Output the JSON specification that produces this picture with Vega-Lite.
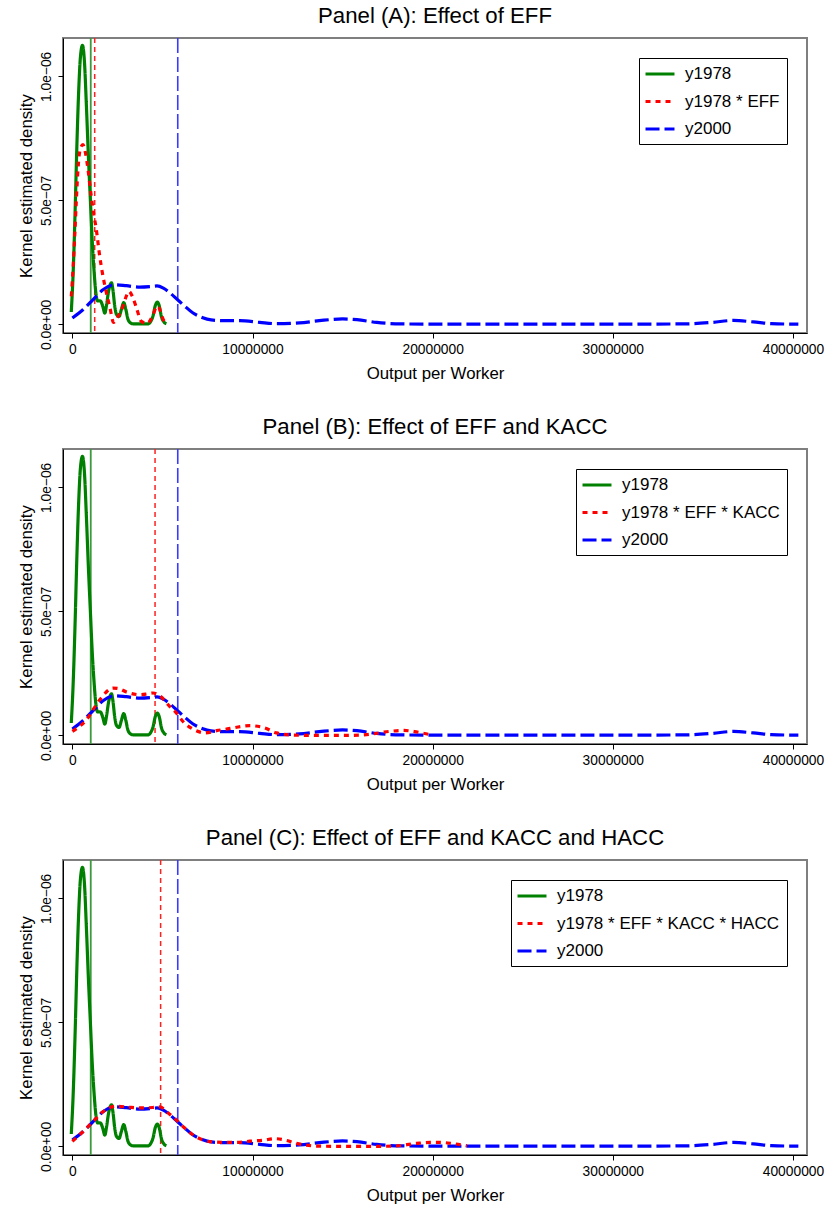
{
  "$schema": "https://vega.github.io/schema/vega-lite/v6.json",
  "padding": {"left": 17, "top": 3, "right": 0, "bottom": 0},
  "background": "white",
  "spacing": 30,
  "config": {
    "font": "Liberation Sans",
    "view": {"stroke": "#7f7f7f", "strokeWidth": 2},
    "axis": {"grid": false, "domainColor": "black", "tickColor": "black", "labelColor": "black", "titleColor": "black", "labelFont": "Liberation Sans", "titleFont": "Liberation Sans", "labelFontSize": 13.8, "titleFontSize": 16.8, "titleFontWeight": "normal", "tickSize": 5},
    "axisX": {"labelPadding": 4, "titlePadding": 10},
    "axisY": {"labelAngle": -90, "labelAlign": "center", "labelBaseline": "bottom", "labelPadding": 5, "titlePadding": 4},
    "title": {"fontSize": 22.2, "font": "Liberation Sans", "fontWeight": "normal", "color": "black", "anchor": "middle", "offset": 10},
    "legend": {"orient": "top-right", "offset": 20, "padding": 7, "strokeColor": "black", "fillColor": "white", "symbolType": "M-2,0H2", "symbolSize": 210, "symbolStrokeWidth": 3.2, "labelFontSize": 17, "labelFont": "Liberation Sans", "labelColor": "black", "labelLimit": 0, "rowPadding": 10.5, "symbolOffset": 5, "labelOffset": 16},
    "line": {"strokeWidth": 3.2, "interpolate": "monotone"}
  },
  "datasets": {
    "common": [
      {"series": "y1978", "x": -60000, "density": 5.0e-8},
      {"series": "y1978", "x": 50000, "density": 2.2e-7},
      {"series": "y1978", "x": 150000, "density": 4.5e-7},
      {"series": "y1978", "x": 250000, "density": 7.2e-7},
      {"series": "y1978", "x": 350000, "density": 9.4e-7},
      {"series": "y1978", "x": 450000, "density": 1.08e-6},
      {"series": "y1978", "x": 560000, "density": 1.125e-6},
      {"series": "y1978", "x": 670000, "density": 1.06e-6},
      {"series": "y1978", "x": 780000, "density": 8.8e-7},
      {"series": "y1978", "x": 900000, "density": 6.6e-7},
      {"series": "y1978", "x": 1000000, "density": 5.0e-7},
      {"series": "y1978", "x": 1100000, "density": 3.4e-7},
      {"series": "y1978", "x": 1200000, "density": 2.2e-7},
      {"series": "y1978", "x": 1300000, "density": 1.3e-7},
      {"series": "y1978", "x": 1400000, "density": 9.5e-8},
      {"series": "y1978", "x": 1550000, "density": 9.5e-8},
      {"series": "y1978", "x": 1700000, "density": 7.0e-8},
      {"series": "y1978", "x": 1800000, "density": 4.5e-8},
      {"series": "y1978", "x": 1900000, "density": 8.0e-8},
      {"series": "y1978", "x": 2000000, "density": 1.3e-7},
      {"series": "y1978", "x": 2100000, "density": 1.6e-7},
      {"series": "y1978", "x": 2170000, "density": 1.68e-7},
      {"series": "y1978", "x": 2250000, "density": 1.4e-7},
      {"series": "y1978", "x": 2350000, "density": 7.5e-8},
      {"series": "y1978", "x": 2450000, "density": 4.0e-8},
      {"series": "y1978", "x": 2590000, "density": 3.2e-8},
      {"series": "y1978", "x": 2720000, "density": 6.0e-8},
      {"series": "y1978", "x": 2850000, "density": 8.8e-8},
      {"series": "y1978", "x": 2970000, "density": 6.0e-8},
      {"series": "y1978", "x": 3090000, "density": 2.0e-8},
      {"series": "y1978", "x": 3250000, "density": 5e-9},
      {"series": "y1978", "x": 3400000, "density": 2e-9},
      {"series": "y1978", "x": 4200000, "density": 2e-9},
      {"series": "y1978", "x": 4350000, "density": 1.2e-8},
      {"series": "y1978", "x": 4480000, "density": 3.5e-8},
      {"series": "y1978", "x": 4600000, "density": 7.5e-8},
      {"series": "y1978", "x": 4720000, "density": 9.0e-8},
      {"series": "y1978", "x": 4840000, "density": 7.0e-8},
      {"series": "y1978", "x": 4940000, "density": 3.2e-8},
      {"series": "y1978", "x": 5080000, "density": 1.0e-8},
      {"series": "y1978", "x": 5220000, "density": 3e-9},
      {"series": "y2000", "x": 0, "density": 2.6e-8},
      {"series": "y2000", "x": 600000, "density": 6.0e-8},
      {"series": "y2000", "x": 1150000, "density": 1.0e-7},
      {"series": "y2000", "x": 1700000, "density": 1.4e-7},
      {"series": "y2000", "x": 2350000, "density": 1.6e-7},
      {"series": "y2000", "x": 3000000, "density": 1.56e-7},
      {"series": "y2000", "x": 3750000, "density": 1.5e-7},
      {"series": "y2000", "x": 4300000, "density": 1.52e-7},
      {"series": "y2000", "x": 4700000, "density": 1.55e-7},
      {"series": "y2000", "x": 5050000, "density": 1.46e-7},
      {"series": "y2000", "x": 5400000, "density": 1.28e-7},
      {"series": "y2000", "x": 5800000, "density": 1.02e-7},
      {"series": "y2000", "x": 6200000, "density": 7.6e-8},
      {"series": "y2000", "x": 6700000, "density": 4.6e-8},
      {"series": "y2000", "x": 7200000, "density": 2.8e-8},
      {"series": "y2000", "x": 7700000, "density": 1.8e-8},
      {"series": "y2000", "x": 8500000, "density": 1.5e-8},
      {"series": "y2000", "x": 9300000, "density": 1.5e-8},
      {"series": "y2000", "x": 10400000, "density": 8e-9},
      {"series": "y2000", "x": 11300000, "density": 3e-9},
      {"series": "y2000", "x": 12600000, "density": 6e-9},
      {"series": "y2000", "x": 13700000, "density": 1.5e-8},
      {"series": "y2000", "x": 15000000, "density": 2.2e-8},
      {"series": "y2000", "x": 15800000, "density": 1.9e-8},
      {"series": "y2000", "x": 16900000, "density": 8e-9},
      {"series": "y2000", "x": 18200000, "density": 2e-9},
      {"series": "y2000", "x": 20000000, "density": 1e-9},
      {"series": "y2000", "x": 25000000, "density": 1e-9},
      {"series": "y2000", "x": 30000000, "density": 1e-9},
      {"series": "y2000", "x": 34000000, "density": 2e-9},
      {"series": "y2000", "x": 35500000, "density": 8e-9},
      {"series": "y2000", "x": 36700000, "density": 1.6e-8},
      {"series": "y2000", "x": 37800000, "density": 1.0e-8},
      {"series": "y2000", "x": 38800000, "density": 3e-9},
      {"series": "y2000", "x": 40300000, "density": 1e-9}
    ],
    "redA": [
      {"series": "y1978 * EFF", "x": -60000, "density": 1.13e-7},
      {"series": "y1978 * EFF", "x": 50000, "density": 2.4e-7},
      {"series": "y1978 * EFF", "x": 130000, "density": 3.55e-7},
      {"series": "y1978 * EFF", "x": 220000, "density": 5.0e-7},
      {"series": "y1978 * EFF", "x": 310000, "density": 6.24e-7},
      {"series": "y1978 * EFF", "x": 450000, "density": 7.1e-7},
      {"series": "y1978 * EFF", "x": 590000, "density": 7.25e-7},
      {"series": "y1978 * EFF", "x": 730000, "density": 6.9e-7},
      {"series": "y1978 * EFF", "x": 870000, "density": 6.24e-7},
      {"series": "y1978 * EFF", "x": 1050000, "density": 5.16e-7},
      {"series": "y1978 * EFF", "x": 1200000, "density": 4.4e-7},
      {"series": "y1978 * EFF", "x": 1330000, "density": 3.82e-7},
      {"series": "y1978 * EFF", "x": 1520000, "density": 2.74e-7},
      {"series": "y1978 * EFF", "x": 1700000, "density": 1.94e-7},
      {"series": "y1978 * EFF", "x": 1890000, "density": 1.27e-7},
      {"series": "y1978 * EFF", "x": 2070000, "density": 7.3e-8},
      {"series": "y1978 * EFF", "x": 2290000, "density": 8e-9},
      {"series": "y1978 * EFF", "x": 2530000, "density": 3.2e-8},
      {"series": "y1978 * EFF", "x": 2810000, "density": 7.3e-8},
      {"series": "y1978 * EFF", "x": 3000000, "density": 1.15e-7},
      {"series": "y1978 * EFF", "x": 3140000, "density": 1.33e-7},
      {"series": "y1978 * EFF", "x": 3330000, "density": 1.13e-7},
      {"series": "y1978 * EFF", "x": 3560000, "density": 6.6e-8},
      {"series": "y1978 * EFF", "x": 3830000, "density": 1.2e-8},
      {"series": "y1978 * EFF", "x": 4150000, "density": 4e-9},
      {"series": "y1978 * EFF", "x": 4480000, "density": 3.9e-8},
      {"series": "y1978 * EFF", "x": 4650000, "density": 6.8e-8},
      {"series": "y1978 * EFF", "x": 4760000, "density": 7.3e-8},
      {"series": "y1978 * EFF", "x": 4900000, "density": 5.0e-8},
      {"series": "y1978 * EFF", "x": 5030000, "density": 2.2e-8},
      {"series": "y1978 * EFF", "x": 5120000, "density": 1.0e-8}
    ],
    "redB": [
      {"series": "y1978 * EFF * KACC", "x": 0, "density": 1.6e-8},
      {"series": "y1978 * EFF * KACC", "x": 780000, "density": 6.3e-8},
      {"series": "y1978 * EFF * KACC", "x": 1520000, "density": 1.44e-7},
      {"series": "y1978 * EFF * KACC", "x": 2260000, "density": 1.91e-7},
      {"series": "y1978 * EFF * KACC", "x": 2600000, "density": 1.88e-7},
      {"series": "y1978 * EFF * KACC", "x": 3000000, "density": 1.75e-7},
      {"series": "y1978 * EFF * KACC", "x": 3740000, "density": 1.64e-7},
      {"series": "y1978 * EFF * KACC", "x": 4200000, "density": 1.68e-7},
      {"series": "y1978 * EFF * KACC", "x": 4480000, "density": 1.71e-7},
      {"series": "y1978 * EFF * KACC", "x": 4850000, "density": 1.6e-7},
      {"series": "y1978 * EFF * KACC", "x": 5400000, "density": 1.17e-7},
      {"series": "y1978 * EFF * KACC", "x": 5780000, "density": 9.0e-8},
      {"series": "y1978 * EFF * KACC", "x": 6140000, "density": 5.6e-8},
      {"series": "y1978 * EFF * KACC", "x": 6700000, "density": 2.5e-8},
      {"series": "y1978 * EFF * KACC", "x": 7400000, "density": 1.0e-8},
      {"series": "y1978 * EFF * KACC", "x": 8000000, "density": 1.9e-8},
      {"series": "y1978 * EFF * KACC", "x": 8600000, "density": 2.6e-8},
      {"series": "y1978 * EFF * KACC", "x": 9850000, "density": 3.9e-8},
      {"series": "y1978 * EFF * KACC", "x": 10600000, "density": 3.2e-8},
      {"series": "y1978 * EFF * KACC", "x": 11330000, "density": 1.0e-8},
      {"series": "y1978 * EFF * KACC", "x": 12260000, "density": 1e-9},
      {"series": "y1978 * EFF * KACC", "x": 13700000, "density": 0},
      {"series": "y1978 * EFF * KACC", "x": 15200000, "density": 0},
      {"series": "y1978 * EFF * KACC", "x": 16330000, "density": 3e-9},
      {"series": "y1978 * EFF * KACC", "x": 17600000, "density": 1.6e-8},
      {"series": "y1978 * EFF * KACC", "x": 18400000, "density": 2.0e-8},
      {"series": "y1978 * EFF * KACC", "x": 19100000, "density": 1.4e-8},
      {"series": "y1978 * EFF * KACC", "x": 19850000, "density": 3e-9}
    ],
    "redC": [
      {"series": "y1978 * EFF * KACC * HACC", "x": 0, "density": 2.0e-8},
      {"series": "y1978 * EFF * KACC * HACC", "x": 600000, "density": 6.0e-8},
      {"series": "y1978 * EFF * KACC * HACC", "x": 1150000, "density": 1.0e-7},
      {"series": "y1978 * EFF * KACC * HACC", "x": 1700000, "density": 1.4e-7},
      {"series": "y1978 * EFF * KACC * HACC", "x": 2440000, "density": 1.62e-7},
      {"series": "y1978 * EFF * KACC * HACC", "x": 3100000, "density": 1.58e-7},
      {"series": "y1978 * EFF * KACC * HACC", "x": 3900000, "density": 1.55e-7},
      {"series": "y1978 * EFF * KACC * HACC", "x": 4500000, "density": 1.57e-7},
      {"series": "y1978 * EFF * KACC * HACC", "x": 4850000, "density": 1.59e-7},
      {"series": "y1978 * EFF * KACC * HACC", "x": 5300000, "density": 1.36e-7},
      {"series": "y1978 * EFF * KACC * HACC", "x": 5780000, "density": 1.06e-7},
      {"series": "y1978 * EFF * KACC * HACC", "x": 6200000, "density": 7.6e-8},
      {"series": "y1978 * EFF * KACC * HACC", "x": 6700000, "density": 4.6e-8},
      {"series": "y1978 * EFF * KACC * HACC", "x": 7260000, "density": 2.6e-8},
      {"series": "y1978 * EFF * KACC * HACC", "x": 7630000, "density": 1.9e-8},
      {"series": "y1978 * EFF * KACC * HACC", "x": 8500000, "density": 1.6e-8},
      {"series": "y1978 * EFF * KACC * HACC", "x": 9100000, "density": 1.6e-8},
      {"series": "y1978 * EFF * KACC * HACC", "x": 9850000, "density": 2.1e-8},
      {"series": "y1978 * EFF * KACC * HACC", "x": 10600000, "density": 2.5e-8},
      {"series": "y1978 * EFF * KACC * HACC", "x": 11240000, "density": 3.1e-8},
      {"series": "y1978 * EFF * KACC * HACC", "x": 11900000, "density": 2.4e-8},
      {"series": "y1978 * EFF * KACC * HACC", "x": 12440000, "density": 1.2e-8},
      {"series": "y1978 * EFF * KACC * HACC", "x": 13700000, "density": 1e-9},
      {"series": "y1978 * EFF * KACC * HACC", "x": 15200000, "density": 0},
      {"series": "y1978 * EFF * KACC * HACC", "x": 16300000, "density": 0},
      {"series": "y1978 * EFF * KACC * HACC", "x": 17800000, "density": 1e-9},
      {"series": "y1978 * EFF * KACC * HACC", "x": 19100000, "density": 1.2e-8},
      {"series": "y1978 * EFF * KACC * HACC", "x": 19850000, "density": 1.6e-8},
      {"series": "y1978 * EFF * KACC * HACC", "x": 20400000, "density": 1.6e-8},
      {"series": "y1978 * EFF * KACC * HACC", "x": 21050000, "density": 1.2e-8},
      {"series": "y1978 * EFF * KACC * HACC", "x": 21900000, "density": 2e-9}
    ],
    "means": [
      {"panel": "A", "kind": "y1978", "x": 1020000},
      {"panel": "A", "kind": "counterfactual", "x": 1240000},
      {"panel": "A", "kind": "y2000", "x": 5850000},
      {"panel": "B", "kind": "y1978", "x": 1020000},
      {"panel": "B", "kind": "counterfactual", "x": 4590000},
      {"panel": "B", "kind": "y2000", "x": 5850000},
      {"panel": "C", "kind": "y1978", "x": 1020000},
      {"panel": "C", "kind": "counterfactual", "x": 4900000},
      {"panel": "C", "kind": "y2000", "x": 5850000}
    ]
  },
  "resolve": {"scale": {"color": "independent", "strokeDash": "independent"}, "legend": {"color": "independent", "strokeDash": "independent"}},
  "vconcat": [
    {
      "title": "Panel (A): Effect of EFF",
      "width": 744, "height": 295,
      "encoding": {"x": {"field": "x", "type": "quantitative", "scale": {"domain": [-520000, 40780000], "nice": false, "zero": false}, "axis": {"title": "Output per Worker", "values": [0, 10000000, 20000000, 30000000, 40000000], "format": "d", "labelFlush": false}}},
      "layer": [
        {"data": {"name": "means"}, "transform": [{"filter": "datum.panel == 'A' && datum.kind == 'y1978'"}], "mark": {"type": "rule", "color": "#3c9a3c", "strokeWidth": 1.8}},
        {"data": {"name": "means"}, "transform": [{"filter": "datum.panel == 'A' && datum.kind == 'counterfactual'"}], "mark": {"type": "rule", "color": "#ff2020", "strokeWidth": 1.5, "strokeDash": [5, 4]}},
        {"data": {"name": "means"}, "transform": [{"filter": "datum.panel == 'A' && datum.kind == 'y2000'"}], "mark": {"type": "rule", "color": "#3a3aff", "strokeWidth": 1.6, "strokeDash": [15, 4]}},
        {"data": {"name": "common"}, "mark": {"type": "line", "clip": true},
         "encoding": {
           "y": {"field": "density", "type": "quantitative", "scale": {"domain": [-3.47e-8, 1.1548e-6], "nice": false, "zero": false}, "axis": {"title": "Kernel estimated density", "values": [0, 5e-7, 1e-6], "labelExpr": "datum.value == 0 ? '0.0e+00' : (datum.value < 7e-7 ? '5.0e−07' : '1.0e−06')"}},
           "color": {"field": "series", "type": "nominal", "scale": {"domain": ["y1978", "y1978 * EFF", "y2000"], "range": ["#008000", "#ff0000", "#0000ff"]}, "legend": {"title": null}},
           "strokeDash": {"field": "series", "type": "nominal", "scale": {"domain": ["y1978", "y1978 * EFF", "y2000"], "range": [[1, 0], [5, 5], [14, 5]]}, "legend": {"title": null}}
         }},
        {"data": {"name": "redA"}, "mark": {"type": "line", "clip": true},
         "encoding": {
           "y": {"field": "density", "type": "quantitative"},
           "color": {"field": "series", "type": "nominal"},
           "strokeDash": {"field": "series", "type": "nominal"}
         }}
      ]
    },
    {
      "title": "Panel (B): Effect of EFF and KACC",
      "width": 744, "height": 295,
      "encoding": {"x": {"field": "x", "type": "quantitative", "scale": {"domain": [-520000, 40780000], "nice": false, "zero": false}, "axis": {"title": "Output per Worker", "values": [0, 10000000, 20000000, 30000000, 40000000], "format": "d", "labelFlush": false}}},
      "layer": [
        {"data": {"name": "means"}, "transform": [{"filter": "datum.panel == 'B' && datum.kind == 'y1978'"}], "mark": {"type": "rule", "color": "#3c9a3c", "strokeWidth": 1.8}},
        {"data": {"name": "means"}, "transform": [{"filter": "datum.panel == 'B' && datum.kind == 'counterfactual'"}], "mark": {"type": "rule", "color": "#ff2020", "strokeWidth": 1.5, "strokeDash": [5, 4]}},
        {"data": {"name": "means"}, "transform": [{"filter": "datum.panel == 'B' && datum.kind == 'y2000'"}], "mark": {"type": "rule", "color": "#3a3aff", "strokeWidth": 1.6, "strokeDash": [15, 4]}},
        {"data": {"name": "common"}, "mark": {"type": "line", "clip": true},
         "encoding": {
           "y": {"field": "density", "type": "quantitative", "scale": {"domain": [-3.47e-8, 1.1548e-6], "nice": false, "zero": false}, "axis": {"title": "Kernel estimated density", "values": [0, 5e-7, 1e-6], "labelExpr": "datum.value == 0 ? '0.0e+00' : (datum.value < 7e-7 ? '5.0e−07' : '1.0e−06')"}},
           "color": {"field": "series", "type": "nominal", "scale": {"domain": ["y1978", "y1978 * EFF * KACC", "y2000"], "range": ["#008000", "#ff0000", "#0000ff"]}, "legend": {"title": null}},
           "strokeDash": {"field": "series", "type": "nominal", "scale": {"domain": ["y1978", "y1978 * EFF * KACC", "y2000"], "range": [[1, 0], [5, 5], [14, 5]]}, "legend": {"title": null}}
         }},
        {"data": {"name": "redB"}, "mark": {"type": "line", "clip": true},
         "encoding": {
           "y": {"field": "density", "type": "quantitative"},
           "color": {"field": "series", "type": "nominal"},
           "strokeDash": {"field": "series", "type": "nominal"}
         }}
      ]
    },
    {
      "title": "Panel (C): Effect of EFF and KACC and HACC",
      "width": 744, "height": 295,
      "encoding": {"x": {"field": "x", "type": "quantitative", "scale": {"domain": [-520000, 40780000], "nice": false, "zero": false}, "axis": {"title": "Output per Worker", "values": [0, 10000000, 20000000, 30000000, 40000000], "format": "d", "labelFlush": false}}},
      "layer": [
        {"data": {"name": "means"}, "transform": [{"filter": "datum.panel == 'C' && datum.kind == 'y1978'"}], "mark": {"type": "rule", "color": "#3c9a3c", "strokeWidth": 1.8}},
        {"data": {"name": "means"}, "transform": [{"filter": "datum.panel == 'C' && datum.kind == 'counterfactual'"}], "mark": {"type": "rule", "color": "#ff2020", "strokeWidth": 1.5, "strokeDash": [5, 4]}},
        {"data": {"name": "means"}, "transform": [{"filter": "datum.panel == 'C' && datum.kind == 'y2000'"}], "mark": {"type": "rule", "color": "#3a3aff", "strokeWidth": 1.6, "strokeDash": [15, 4]}},
        {"data": {"name": "common"}, "mark": {"type": "line", "clip": true},
         "encoding": {
           "y": {"field": "density", "type": "quantitative", "scale": {"domain": [-3.47e-8, 1.1548e-6], "nice": false, "zero": false}, "axis": {"title": "Kernel estimated density", "values": [0, 5e-7, 1e-6], "labelExpr": "datum.value == 0 ? '0.0e+00' : (datum.value < 7e-7 ? '5.0e−07' : '1.0e−06')"}},
           "color": {"field": "series", "type": "nominal", "scale": {"domain": ["y1978", "y1978 * EFF * KACC * HACC", "y2000"], "range": ["#008000", "#ff0000", "#0000ff"]}, "legend": {"title": null}},
           "strokeDash": {"field": "series", "type": "nominal", "scale": {"domain": ["y1978", "y1978 * EFF * KACC * HACC", "y2000"], "range": [[1, 0], [5, 5], [14, 5]]}, "legend": {"title": null}}
         }},
        {"data": {"name": "redC"}, "mark": {"type": "line", "clip": true},
         "encoding": {
           "y": {"field": "density", "type": "quantitative"},
           "color": {"field": "series", "type": "nominal"},
           "strokeDash": {"field": "series", "type": "nominal"}
         }}
      ]
    }
  ]
}
